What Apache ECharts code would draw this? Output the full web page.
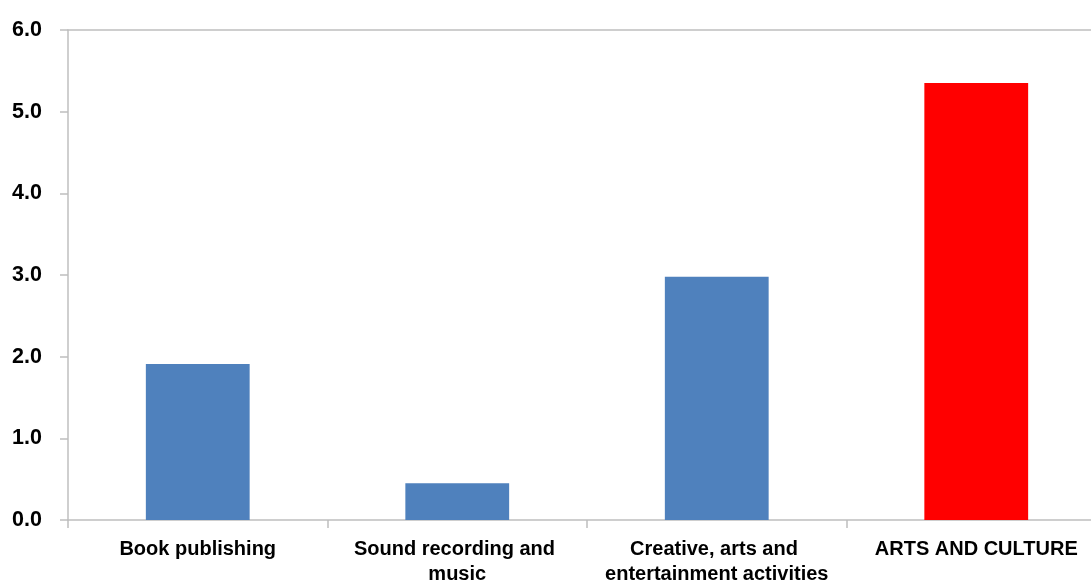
<!DOCTYPE html>
<html>
<head>
<meta charset="utf-8">
<script src="https://cdn.jsdelivr.net/npm/echarts@6/dist/echarts.min.js"></script>
<style>
html,body{margin:0;padding:0;background:#fff;overflow:hidden;}
#chart{width:1091px;height:583px;}
</style>
</head>
<body>
<div id="chart"></div>
<script>
const categories = ['Book publishing', 'Sound recording and music', 'Creative, arts and entertainment activities', 'ARTS AND CULTURE'];
const values = [1.91, 0.45, 2.98, 5.35];
const barColors = ['#4f81bd', '#4f81bd', '#4f81bd', '#ff0000'];
const yTicks = [0, 1, 2, 3, 4, 5, 6];

const chart = echarts.init(document.getElementById('chart'), null, {renderer: 'canvas'});
const axisGray = '#bfbfbf';
const font = '"Liberation Sans", Arial, sans-serif';
chart.setOption({
  animation: false,
  grid: {left: 68, width: 1038, top: 30, height: 490, containLabel: false, outerBoundsMode: 'none'},
  xAxis: [{
    type: 'category',
    data: categories,
    axisLine: {show: true, lineStyle: {color: axisGray, width: 1.5}},
    axisTick: {show: true, length: 8, lineStyle: {color: axisGray, width: 1.5}},
    axisLabel: {
      interval: 0, margin: 17, color: '#000', fontFamily: font, fontWeight: 'bold', fontSize: 20,
      lineHeight: 25, width: 235, overflow: 'break', align: 'center'
    }
  }, {
    type: 'category',
    position: 'top',
    data: categories,
    axisLine: {show: true, lineStyle: {color: axisGray, width: 1.5}},
    axisTick: {show: false},
    axisLabel: {show: false}
  }],
  yAxis: {
    type: 'value',
    min: yTicks[0], max: yTicks[yTicks.length - 1], interval: 1,
    axisLine: {show: true, lineStyle: {color: axisGray, width: 1.5}},
    axisTick: {show: true, length: 8, lineStyle: {color: axisGray, width: 1.5}},
    splitLine: {show: false},
    axisLabel: {
      margin: 26, color: '#000', fontFamily: font, fontWeight: 'bold', fontSize: 21.5,
      formatter: v => v.toFixed(1)
    }
  },
  series: [{
    type: 'bar',
    xAxisIndex: 0,
    barWidth: '40%',
    data: values.map((v, i) => ({value: v, itemStyle: {color: barColors[i]}}))
  }]
});
</script>
</body>
</html>
